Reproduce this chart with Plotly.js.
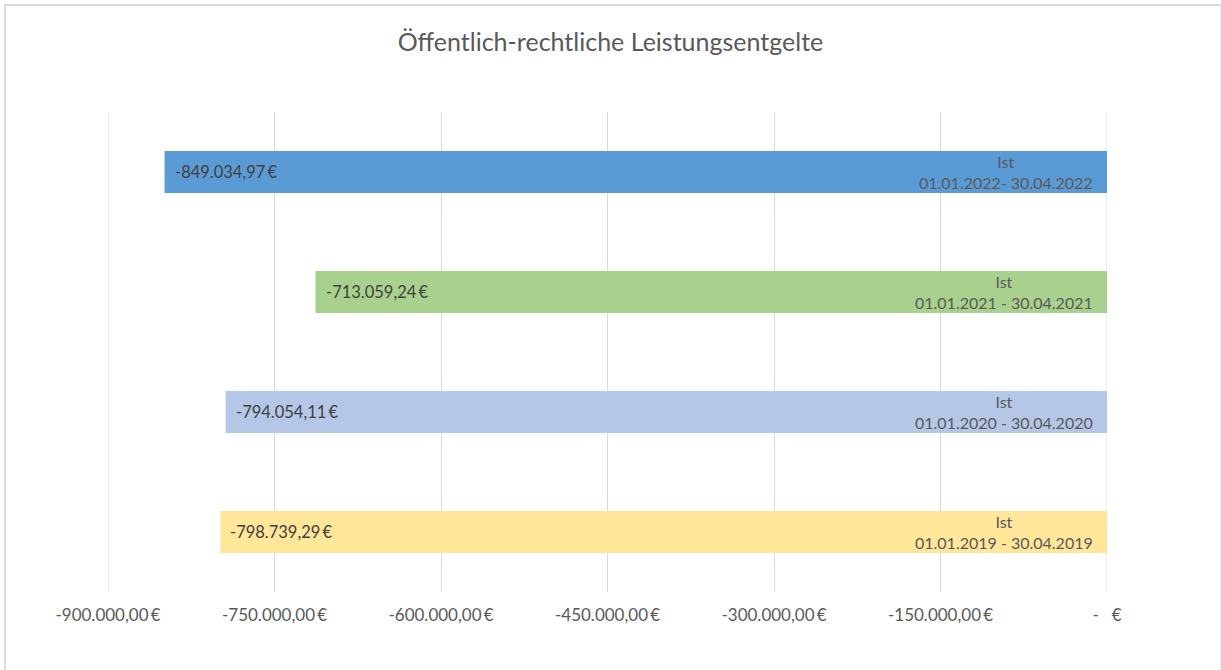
<!DOCTYPE html>
<html>
<head>
<meta charset="utf-8">
<script src="https://cdn.plot.ly/plotly-3.0.1.min.js"></script>
<style>
html,body{margin:0;padding:0;background:#fff;}
#wrap{position:relative;width:1221px;height:670px;overflow:hidden;}
#chart{position:absolute;left:0;top:0;width:1221px;height:670px;}
#frame{position:absolute;left:4px;top:4px;width:1214px;height:680px;border-left:2px solid #d9d9d9;border-top:2px solid #d9d9d9;border-right:2px solid #ececec;pointer-events:none;}
</style>
</head>
<body>
<div id="wrap"><div id="chart"></div><div id="frame"></div></div>
<script>
const categories = ["Ist 2022", "Ist 2021", "Ist 2020", "Ist 2019"];
const periodLabels = [
  "Ist<br>01.01.2022- 30.04.2022",
  "Ist<br>01.01.2021 - 30.04.2021",
  "Ist<br>01.01.2020 - 30.04.2020",
  "Ist<br>01.01.2019 - 30.04.2019"
];
const values = [-849034.97, -713059.24, -794054.11, -798739.29];
const barColors = ["#5B9BD5", "#A9D18E", "#B4C7E7", "#FFE699"];
const tickValues = [-900000, -750000, -600000, -450000, -300000, -150000, 0];
const tickLabels = ["-900.000,00\u2009€", "-750.000,00\u2009€", "-600.000,00\u2009€", "-450.000,00\u2009€", "-300.000,00\u2009€", "-150.000,00\u2009€", "-   €"];

function fmtEuro(v) {
  const s = Math.abs(v).toFixed(2).split(".");
  const intPart = s[0].replace(/\B(?=(\d{3})+(?!\d))/g, ".");
  return (v < 0 ? "-" : "") + intPart + "," + s[1] + "\u2009€";
}

const font = "Lato, 'Open Sans', sans-serif";
const order = categories.slice().reverse();

const trace = {
  type: "bar",
  orientation: "h",
  x: values,
  y: categories,
  marker: {color: barColors},
  width: 0.35,
  hoverinfo: "none"
};

const annotations = [];
categories.forEach((c, i) => {
  const idx = order.indexOf(c);
  annotations.push({
    x: values[i], y: idx, xref: "x", yref: "y",
    text: fmtEuro(values[i]), showarrow: false,
    xanchor: "left", yanchor: "middle", xshift: 8,
    font: {family: font, size: 16.5, color: "#404040"}
  });
  annotations.push({
    x: 0, y: idx, xref: "x", yref: "y",
    text: periodLabels[i], showarrow: false,
    xanchor: "right", yanchor: "middle", xshift: -12, align: "center",
    font: {family: font, size: 16, color: "#595959"}
  });
});

// edge gridlines (Plotly skips gridlines that sit on the plot boundary)
const edgeGrid = [tickValues[0], tickValues[tickValues.length - 1]].map(v => ({
  type: "line", xref: "x", yref: "paper", x0: v, x1: v, y0: 0, y1: 1,
  line: {color: "#d9d9d9", width: 1}, layer: "below"
}));

const layout = {
  width: 1221, height: 670,
  margin: {l: 108, r: 114, t: 112, b: 78},
  paper_bgcolor: "#ffffff",
  plot_bgcolor: "#ffffff",
  showlegend: false,
  title: {
    text: "Öffentlich-rechtliche Leistungsentgelte",
    font: {family: font, size: 25, color: "#595959"},
    x: 0.5, xanchor: "center", y: 1 - 42/670, yanchor: "middle", yref: "container"
  },
  xaxis: {
    range: [-900000, 0],
    tickvals: tickValues,
    ticktext: tickLabels,
    showgrid: true, gridcolor: "#d9d9d9", gridwidth: 1,
    zeroline: false, showline: false, ticks: "",
    ticklabelstandoff: 11,
    tickfont: {family: font, size: 17, color: "#595959"},
    fixedrange: true
  },
  yaxis: {
    type: "category",
    categoryorder: "array",
    categoryarray: order,
    range: [-0.5, 3.5],
    showticklabels: false, showgrid: false, zeroline: false, showline: false, ticks: "",
    fixedrange: true
  },
  shapes: edgeGrid,
  annotations: annotations
};

Plotly.newPlot("chart", [trace], layout, {displayModeBar: false, staticPlot: true});
</script>
</body>
</html>
